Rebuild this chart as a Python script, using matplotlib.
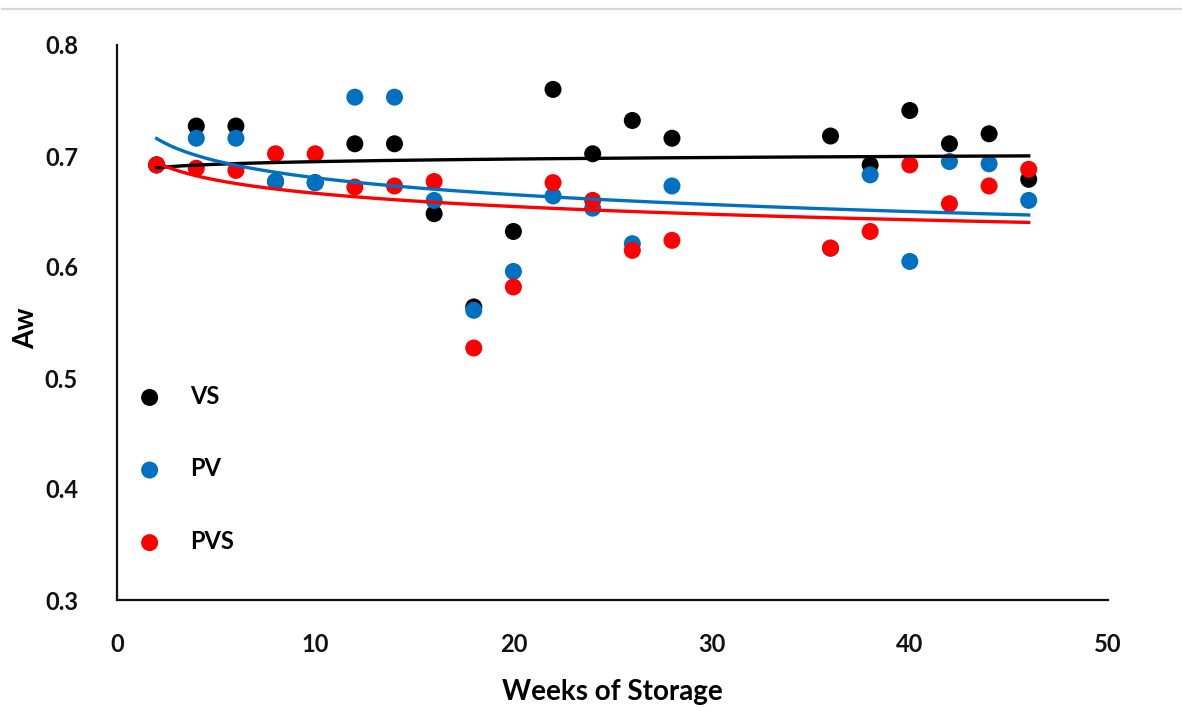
import numpy as np
import matplotlib
matplotlib.use("Agg")
import matplotlib.pyplot as plt
from matplotlib.lines import Line2D

weeks = [2, 4, 6, 8, 10, 12, 14, 16, 18, 20, 22, 24, 26, 28, 36, 38, 40, 42, 44, 46]
vs  = [0.692, 0.727, 0.727, 0.677, 0.676, 0.711, 0.711, 0.648, 0.564, 0.632,
       0.760, 0.702, 0.732, 0.716, 0.718, 0.692, 0.741, 0.711, 0.720, 0.679]
pv  = [0.692, 0.716, 0.716, 0.677, 0.676, 0.753, 0.753, 0.660, 0.561, 0.596,
       0.664, 0.653, 0.621, 0.673, 0.617, 0.683, 0.605, 0.695, 0.693, 0.660]
pvs = [0.692, 0.689, 0.687, 0.702, 0.702, 0.672, 0.673, 0.677, 0.527, 0.582,
       0.676, 0.660, 0.615, 0.624, 0.617, 0.632, 0.692, 0.657, 0.673, 0.688]

series = [("VS", vs, "#000000"), ("PV", pv, "#0070C0"), ("PVS", pvs, "#FF0000")]
x_ticks = [0, 10, 20, 30, 40, 50]
y_ticks = [0.3, 0.4, 0.5, 0.6, 0.7, 0.8]

FONT = "Lato"
FS = 17

fig = plt.figure(figsize=(11.82, 7.11), dpi=100)
ax = fig.add_axes([117/1182, 1-600/711, (1108-117)/1182, (600-45)/711])

x = np.array(weeks, dtype=float)
xs = np.linspace(min(weeks), max(weeks), 200)
for name, vals, col in series:
    ax.scatter(x, vals, s=150, color=col, edgecolors="none", label=name, zorder=2)
for name, vals, col in series:
    b, a = np.polyfit(np.log(x), np.array(vals), 1)
    ax.plot(xs, a + b*np.log(xs), color=col, lw=2.4, zorder=3)

ax.set_xlim(0, 50)
ax.set_ylim(0.3, 0.8)
ax.set_xticks(x_ticks)
ax.set_yticks(y_ticks)
ax.set_xticklabels([str(t) for t in x_ticks], fontfamily=FONT, fontsize=FS, fontweight="bold")
ax.set_yticklabels([f"{t:.1f}" for t in y_ticks], fontfamily=FONT, fontsize=FS, fontweight="bold")
ax.tick_params(axis="both", length=0, colors="#111111")
ax.tick_params(axis="x", pad=24)
ax.tick_params(axis="y", pad=28)
for sp in ["top", "right"]:
    ax.spines[sp].set_visible(False)
for sp in ["left", "bottom"]:
    ax.spines[sp].set_color("#111111")
    ax.spines[sp].set_linewidth(1.6)

ax.set_xlabel("Weeks of Storage", fontfamily=FONT, fontsize=20, fontweight="bold", labelpad=16)
ax.set_ylabel("Aw", fontfamily=FONT, fontsize=20, fontweight="bold")
ax.yaxis.set_label_coords(-0.079, 0.49)

leg = ax.legend(loc="upper left", bbox_to_anchor=(0.021, 0.388), frameon=False,
                borderaxespad=0, borderpad=0, handlelength=1.0, handletextpad=1.2,
                labelspacing=2.1, prop={"family": FONT, "size": FS, "weight": "bold"},
                scatterpoints=1)

fig.add_artist(Line2D([2/1182, 1], [1-9/711, 1-9/711], color="#d9d9d9", lw=1.6))

fig.savefig("out.png", dpi=100)
